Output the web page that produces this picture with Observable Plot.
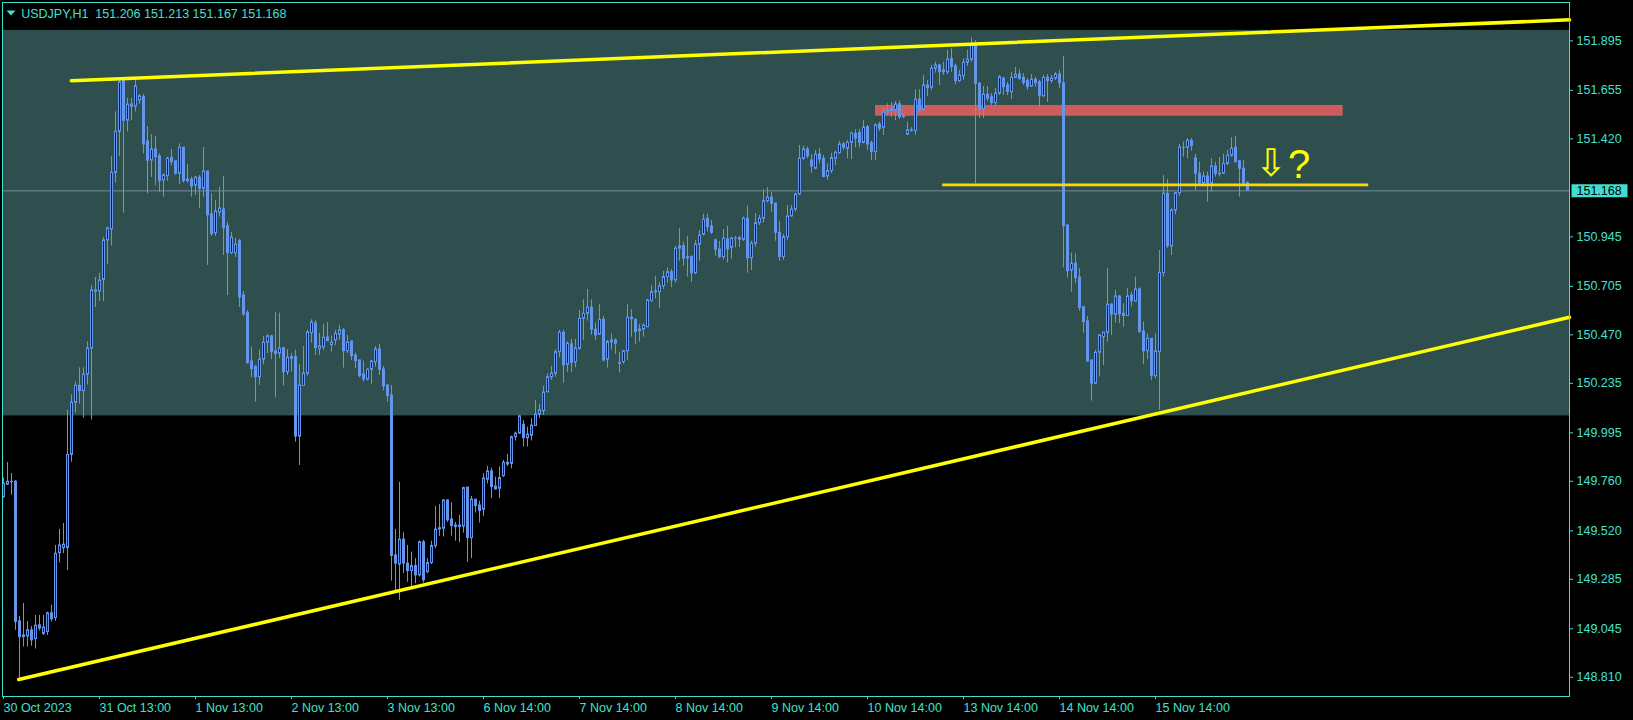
<!DOCTYPE html>
<html><head><meta charset="utf-8">
<script src="https://cdn.jsdelivr.net/npm/d3@7"></script>
<script src="https://cdn.jsdelivr.net/npm/@observablehq/plot@0.6"></script>
<style>html,body{margin:0;padding:0;background:#000;overflow:hidden}</style>
</head><body><div id="chart"></div>
<script>
const symbolName = "USDJPY,H1";

const opens = [149.683,149.744,149.758,149.758,149.081,149.013,149.008,149.038,148.995,149.062,
149.020,149.029,149.120,149.097,149.412,149.436,149.437,149.888,150.141,150.223,
150.197,150.277,150.404,150.679,150.681,150.737,150.928,150.982,151.255,151.454,
151.703,151.508,151.586,151.576,151.606,151.622,151.408,151.315,151.369,151.335,
151.219,151.239,151.327,151.311,151.251,151.377,151.223,151.223,151.194,151.232,
151.178,151.262,151.054,150.963,151.063,151.078,150.997,150.866,150.866,150.924,
150.661,150.575,150.341,150.314,150.265,150.350,150.432,150.463,150.390,150.379,
150.404,150.289,150.362,150.362,149.977,150.222,150.282,150.478,150.525,150.401,
150.410,150.457,150.420,150.443,150.472,150.492,150.391,150.438,150.370,150.346,
150.278,150.254,150.301,150.338,150.399,150.302,150.225,150.176,149.401,149.357,
149.478,149.361,149.325,149.349,149.304,149.465,149.320,149.364,149.446,149.526,
149.530,149.667,149.575,149.546,149.546,149.541,149.730,149.485,149.671,149.643,
149.622,149.768,149.808,149.735,149.724,149.785,149.850,149.845,149.974,149.991,
150.034,149.969,149.981,150.028,150.084,150.100,150.192,150.265,150.282,150.386,
150.480,150.325,150.424,150.338,150.403,150.548,150.572,150.602,150.495,150.471,
150.543,150.350,150.443,150.443,150.333,150.338,150.391,150.553,150.543,150.496,
150.495,150.507,150.633,150.677,150.677,150.706,150.750,150.774,150.734,150.888,
150.900,150.847,150.847,150.769,150.907,150.955,151.033,150.996,150.928,150.884,
150.847,150.933,150.892,150.936,150.939,150.931,151.033,150.842,150.912,151.012,
151.033,151.118,151.135,151.106,150.965,150.847,150.944,151.044,151.077,151.151,
151.324,151.369,151.315,151.275,151.345,151.324,151.238,151.264,151.324,151.351,
151.393,151.372,151.401,151.445,151.448,151.401,151.477,151.399,151.356,151.490,
151.474,151.547,151.563,151.558,151.587,151.529,151.440,151.461,151.458,151.610,
151.561,151.679,151.668,151.760,151.776,151.752,151.743,151.808,151.771,151.700,
151.724,151.789,151.804,151.873,151.687,151.563,151.634,151.622,151.593,151.639,
151.712,151.679,151.647,151.716,151.732,151.716,151.700,151.674,151.707,151.695,
151.627,151.716,151.700,151.712,151.732,151.690,151.000,150.782,150.815,150.748,
150.604,150.535,150.346,150.233,150.383,150.459,150.480,150.616,150.568,150.656,
150.572,150.561,150.661,150.633,150.690,150.487,150.391,150.451,150.270,150.386,
150.769,151.154,150.899,151.072,151.157,151.377,151.377,151.411,151.325,151.251,
151.205,151.238,151.205,151.286,151.251,151.251,151.299,151.338,151.377,151.311,
151.275,151.206];

const highs = [149.777,149.851,149.798,149.764,149.105,149.168,149.081,149.057,149.110,149.110,
149.110,149.126,149.159,149.449,149.527,149.556,150.106,150.180,150.242,150.310,
150.310,150.437,150.710,150.748,150.768,150.943,150.992,151.333,151.551,151.713,
151.713,151.616,151.616,151.703,151.635,151.635,151.480,151.441,151.432,151.348,
151.251,151.331,151.369,151.311,151.396,151.377,151.296,151.235,151.238,151.243,
151.378,151.262,151.154,151.121,151.186,151.238,151.015,150.966,150.937,150.933,
150.681,150.588,150.411,150.322,150.395,150.463,150.472,150.467,150.579,150.575,
150.411,150.398,150.379,150.395,150.327,150.414,150.492,150.543,150.540,150.478,
150.521,150.530,150.463,150.492,150.516,150.500,150.467,150.438,150.381,150.346,
150.343,150.306,150.346,150.414,150.424,150.317,150.225,150.225,149.527,149.756,
149.511,149.449,149.417,149.385,149.470,149.474,149.385,149.470,149.638,149.647,
149.671,149.671,149.656,149.561,149.595,149.732,149.730,149.687,149.671,149.664,
149.797,149.832,149.824,149.780,149.829,149.861,149.891,149.979,149.999,150.080,
150.055,150.023,150.063,150.152,150.131,150.220,150.282,150.317,150.398,150.492,
150.492,150.435,150.448,150.448,150.588,150.640,150.690,150.640,150.529,150.616,
150.559,150.443,150.475,150.451,150.383,150.395,150.616,150.592,150.546,150.521,
150.524,150.642,150.710,150.753,150.723,150.778,150.795,150.786,150.899,150.984,
150.919,150.947,150.854,150.928,150.976,151.054,151.054,151.025,150.933,150.923,
150.980,150.996,150.944,150.947,150.947,151.041,151.093,150.924,151.057,151.049,
151.173,151.183,151.162,151.106,151.020,150.957,151.097,151.097,151.157,151.388,
151.385,151.380,151.343,151.364,151.372,151.340,151.299,151.351,151.361,151.408,
151.404,151.412,151.453,151.464,151.466,151.509,151.485,151.408,151.493,151.500,
151.572,151.590,151.597,151.601,151.603,151.542,151.501,151.474,151.658,151.658,
151.728,151.703,151.776,151.791,151.781,151.791,151.849,151.857,151.781,151.752,
151.808,151.849,151.910,151.897,151.694,151.674,151.674,151.640,151.664,151.728,
151.718,151.694,151.742,151.766,151.755,151.737,151.713,151.732,151.718,151.703,
151.728,151.732,151.728,151.742,151.752,151.820,151.005,150.866,150.863,150.791,
150.608,150.559,150.346,150.395,150.472,150.483,150.791,150.621,150.685,150.661,
150.621,150.694,150.677,150.750,150.698,150.532,150.475,150.451,150.475,150.879,
151.243,151.223,151.081,151.162,151.393,151.404,151.421,151.421,151.345,151.307,
151.259,151.259,151.324,151.307,151.329,151.345,151.364,151.426,151.432,151.315,
151.315,151.213];

const lows = [149.678,149.740,149.693,149.038,148.803,148.957,148.957,148.960,148.947,149.034,
149.013,149.013,149.078,149.081,149.364,149.409,149.328,149.853,150.091,150.135,
150.067,150.227,150.057,150.603,150.632,150.632,150.811,150.901,151.206,151.333,
151.060,151.454,151.508,151.551,151.587,151.348,151.154,151.233,151.194,151.162,
151.138,151.215,151.291,151.243,151.199,151.205,151.205,151.138,151.146,151.083,
151.138,150.807,150.947,150.947,151.041,150.855,150.661,150.860,150.845,150.603,
150.559,150.327,150.262,150.144,150.225,150.325,150.379,150.350,150.165,150.354,
150.222,150.273,150.289,149.950,149.837,150.222,150.270,150.430,150.370,150.370,
150.395,150.439,150.386,150.419,150.443,150.309,150.379,150.346,150.306,150.262,
150.241,150.246,150.230,150.314,150.273,150.197,150.144,149.276,149.215,149.183,
149.312,149.271,149.247,149.264,149.296,149.267,149.312,149.356,149.433,149.493,
149.490,149.561,149.494,149.470,149.462,149.509,149.368,149.385,149.606,149.558,
149.590,149.748,149.676,149.716,149.676,149.779,149.832,149.821,149.955,149.987,
149.926,149.926,149.955,150.026,150.066,150.080,150.188,150.249,150.265,150.359,
150.236,150.289,150.289,150.311,150.395,150.443,150.537,150.467,150.443,150.467,
150.338,150.309,150.395,150.375,150.285,150.327,150.346,150.459,150.424,150.435,
150.459,150.507,150.629,150.645,150.597,150.690,150.721,150.699,150.721,150.827,
150.802,150.750,150.724,150.763,150.827,150.949,150.968,150.957,150.852,150.839,
150.834,150.818,150.839,150.892,150.895,150.923,150.769,150.782,150.895,151.000,
151.012,151.109,151.065,150.924,150.827,150.831,150.928,151.041,151.065,151.146,
151.315,151.324,151.254,151.270,151.299,151.232,151.219,151.251,151.291,151.345,
151.364,151.324,151.320,151.377,151.377,151.396,151.364,151.315,151.315,151.456,
151.437,151.529,151.524,151.509,151.513,151.519,151.437,151.453,151.437,151.550,
151.553,151.626,151.655,151.739,151.679,151.727,151.732,151.743,151.682,151.694,
151.703,151.771,151.791,151.203,151.519,151.519,151.601,151.582,151.577,151.630,
151.630,151.630,151.611,151.713,151.703,151.679,151.655,151.669,151.669,151.572,
151.621,151.597,151.689,151.703,151.664,150.795,150.744,150.677,150.718,150.584,
150.478,150.338,150.149,150.230,150.265,150.322,150.435,150.467,150.527,150.524,
150.507,150.559,150.604,150.629,150.478,150.327,150.350,150.249,150.257,150.104,
150.750,150.888,150.855,151.052,151.141,151.331,151.324,151.361,151.170,151.194,
151.194,151.113,151.162,151.235,151.235,151.248,151.291,151.331,151.302,151.138,
151.199,151.167];

const closes = [149.748,149.758,149.756,149.078,149.005,149.005,149.038,148.989,149.060,149.046,
149.051,149.120,149.091,149.409,149.449,149.453,149.888,150.141,150.223,150.197,
150.277,150.404,150.686,150.686,150.733,150.928,150.986,151.255,151.454,151.694,
151.508,151.586,151.576,151.674,151.626,151.393,151.315,151.369,151.331,151.215,
151.243,151.324,151.307,151.251,151.377,151.215,151.215,151.189,151.232,151.178,
151.262,151.049,150.958,151.068,151.083,150.987,150.866,150.941,150.907,150.651,
150.569,150.333,150.304,150.265,150.350,150.432,150.463,150.386,150.377,150.404,
150.289,150.359,150.354,149.977,150.225,150.282,150.482,150.530,150.406,150.414,
150.456,150.439,150.432,150.475,150.492,150.391,150.433,150.367,150.343,150.270,
150.254,150.301,150.341,150.399,150.301,150.220,150.173,149.398,149.361,149.477,
149.361,149.325,149.349,149.304,149.465,149.280,149.364,149.446,149.526,149.533,
149.667,149.571,149.543,149.538,149.538,149.727,149.485,149.671,149.640,149.616,
149.774,149.808,149.732,149.721,149.776,149.850,149.842,149.974,149.991,150.075,
149.969,149.986,150.030,150.083,150.104,150.190,150.265,150.282,150.386,150.480,
150.322,150.427,150.335,150.403,150.548,150.572,150.602,150.495,150.467,150.543,
150.346,150.435,150.433,150.427,150.330,150.391,150.553,150.546,150.483,150.488,
150.514,150.637,150.677,150.681,150.705,150.750,150.774,150.734,150.888,150.900,
150.839,150.841,150.769,150.907,150.951,151.028,150.992,150.965,150.883,150.847,
150.936,150.884,150.936,150.937,150.931,151.033,150.842,150.912,151.012,151.033,
151.118,151.135,151.106,150.965,150.847,150.944,151.044,151.077,151.151,151.324,
151.369,151.335,151.286,151.343,151.320,151.235,151.264,151.327,151.353,151.393,
151.377,151.401,151.445,151.422,151.401,151.474,151.393,151.356,151.485,151.469,
151.547,151.558,151.555,151.587,151.525,151.525,151.461,151.458,151.610,151.558,
151.679,151.666,151.760,151.776,151.743,151.743,151.804,151.768,151.700,151.727,
151.789,151.804,151.873,151.687,151.563,151.634,151.615,151.593,151.639,151.719,
151.671,151.647,151.716,151.731,151.711,151.692,151.671,151.707,151.690,151.627,
151.716,151.700,151.712,151.732,151.690,150.997,150.779,150.815,150.745,150.600,
150.532,150.341,150.233,150.383,150.467,150.480,150.616,150.568,150.656,150.569,
150.561,150.656,150.633,150.690,150.483,150.390,150.451,150.270,150.390,150.771,
151.154,150.899,151.073,151.157,151.377,151.376,151.411,151.385,151.251,151.205,
151.238,151.203,151.286,151.251,151.249,151.299,151.338,151.372,151.307,151.275,
151.203,151.168];

const xTickBars = [0,24,48,72,96,120,144,168,192,216,240,264,288];
const xTickLabels = ["30 Oct 2023","31 Oct 13:00","1 Nov 13:00","2 Nov 13:00","3 Nov 13:00","6 Nov 14:00","7 Nov 14:00","8 Nov 14:00","9 Nov 14:00","10 Nov 14:00","13 Nov 14:00","14 Nov 14:00","15 Nov 14:00"];
const yTicks = [148.810,149.045,149.285,149.520,149.760,149.995,150.235,150.470,150.705,150.945,151.420,151.655,151.895];

const zoneLow = 150.077, zoneHigh = 151.946;
const resistanceZone = [{bar1: 218, bar2: 334.9, low: 151.530, high: 151.582}];
const upperTrend = [{bar: 16.95, price: 151.702}, {bar: 391.5, price: 151.997}];
const lowerTrend = [{bar: 3.8, price: 148.799}, {bar: 391.5, price: 150.555}];
const levelLine = [{bar1: 234.8, bar2: 341.3, price: 151.197}];
const arrowNote = [{bar: 316.9, price: 151.298, text: "\u21E9"}];
const questionNote = [{bar: 323.9, price: 151.291, text: "?"}];

const TURQ = "#40E0D0";
const WICK = "#6495ED";
const BULL = "#0000FF";

const bars = closes.map((c, i) => ({i, open: opens[i], high: highs[i], low: lows[i], close: c}));
const last = bars[bars.length - 1];
const header = `${symbolName}\u00a0 ${last.open.toFixed(3)} ${last.high.toFixed(3)} ${last.low.toFixed(3)} ${last.close.toFixed(3)}`;

const boxSymbol = {draw(ctx) { ctx.rect(-28, -6.5, 56, 13); }};
const triSymbol = {draw(ctx) { ctx.moveTo(-4.5, -2.5); ctx.lineTo(4.5, -2.5); ctx.lineTo(0, 2.5); ctx.closePath(); }};

const chart = Plot.plot({
  width: 1633, height: 720,
  marginTop: 2, marginLeft: 2, marginRight: 64, marginBottom: 24,
  x: {domain: [0, 311], range: [3, 1247]},
  y: {domain: [148.81, 151.895], range: [676.8, 40.4]},
  style: {background: "#000", color: TURQ, fontFamily: "'Liberation Sans', Arial, sans-serif", fontSize: "12.5px"},
  marks: [
    Plot.rect([0], {y1: zoneLow, y2: zoneHigh, fill: "#2F4F4F"}),
    Plot.rect(resistanceZone, {x1: "bar1", x2: "bar2", y1: "low", y2: "high", fill: "#CD5C5C"}),
    Plot.ruleY([last.close], {stroke: "#778899", strokeWidth: 1}),
    Plot.ruleX(bars, {x: "i", y1: "low", y2: "high", stroke: WICK, strokeWidth: 1}),
    Plot.rect(bars, {x1: d => d.i - 0.25, x2: d => d.i + 0.25, y1: "open", y2: "close",
      fill: d => d.close > d.open ? BULL : WICK, stroke: WICK, strokeWidth: 1, dx: 0.5}),
    Plot.line(lowerTrend, {x: "bar", y: "price", stroke: "#FFFF00", strokeWidth: 3.5}),
    Plot.line(upperTrend, {x: "bar", y: "price", stroke: "#FFFF00", strokeWidth: 3.5}),
    Plot.ruleY(levelLine, {x1: "bar1", x2: "bar2", y: "price", stroke: "#FFD700", strokeWidth: 2.7}),
    Plot.text(arrowNote, {x: "bar", y: "price", text: "text", fill: "#FFFF00", fontSize: 38, fontFamily: "DejaVu Sans"}),
    Plot.text(questionNote, {x: "bar", y: "price", text: "text", fill: "#FFFF00", fontSize: 40, fontFamily: "Liberation Sans"}),
    Plot.frame({stroke: TURQ}),
    Plot.axisY({anchor: "right", ticks: yTicks, tickFormat: d => d.toFixed(3), tickSize: 3, tickPadding: 4, textAnchor: "start", label: null, stroke: TURQ, fill: TURQ}),
    Plot.axisX({anchor: "bottom", ticks: xTickBars, tickFormat: d => xTickLabels[xTickBars.indexOf(d)], tickSize: 3, tickPadding: 4, textAnchor: "start", label: null, stroke: TURQ, fill: TURQ}),
    Plot.dot([last.close], {y: d => d, frameAnchor: "right", dx: 30, symbol: boxSymbol, fill: TURQ, stroke: null}),
    Plot.text([last.close], {y: d => d, text: d => d.toFixed(3), frameAnchor: "right", dx: 7, textAnchor: "start", fill: "#000"}),
    Plot.dot([0], {frameAnchor: "top-left", dx: 8.5, dy: 10.5, symbol: triSymbol, fill: TURQ, stroke: null}),
    Plot.text([header], {text: d => d, frameAnchor: "top-left", dx: 18.7, dy: 15, lineAnchor: "bottom", textAnchor: "start", fill: TURQ})
  ]
});
document.getElementById("chart").appendChild(chart);
</script>
</body></html>
